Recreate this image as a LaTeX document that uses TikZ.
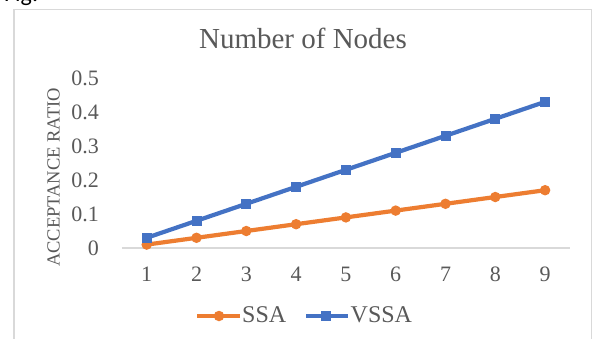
\documentclass[tikz,border=0pt]{standalone}
\usepackage{fontspec}
\setmainfont{Liberation Serif}
\newfontfamily\figfont{Carlito}
\definecolor{ssaorange}{HTML}{ED7D31}
\definecolor{vssablue}{HTML}{4472C4}
\definecolor{txtgray}{HTML}{595959}
\definecolor{axgray}{HTML}{D9D9D9}
\tikzset{
  serieline/.style={line width=4.2pt, line join=round, line cap=round},
  ssamark/.style={circle, fill=ssaorange, inner sep=0pt, minimum size=10.5pt},
  vssamark/.style={rectangle, fill=vssablue, inner sep=0pt, minimum size=10pt},
  ticklab/.style={text=txtgray, font=\fontsize{22}{22}\selectfont, inner sep=0pt},
  legtext/.style={text=txtgray, font=\fontsize{24}{24}\selectfont, inner sep=0pt, anchor=base west},
}
\begin{document}
\begin{tikzpicture}[x=1pt, y=-1pt]
\useasboundingbox (0,0) rectangle (592,338);
\fill[white] (0,0) rectangle (592,338);
% partial caption
\node[anchor=base west, inner sep=0pt, font=\figfont\fontsize{24}{24}\selectfont] (fig) at (4,1) {Fig.};
% chart area border
\draw[axgray, line width=1.5pt] (14,345) -- (14,9.5) -- (591.3,9.5) -- (591.3,345);
% title
\node[anchor=base, inner sep=0pt, text=txtgray, font=\fontsize{29}{29}\selectfont] (title) at (303,48) {Number of Nodes};
% y axis title
\node[rotate=90, inner sep=0pt, text=txtgray, font=\fontsize{18.5}{18.5}\selectfont] (ytitle) at (53.5,177.5) {ACCEPTANCE RATIO};
% x axis line
\coordinate (axl) at (121.8,248);
\coordinate (axr) at (569.5,248);
\draw[axgray, line width=1.3pt] (axl) -- (axr);
% y tick labels
\foreach \k/\lab in {0/0,1/0.1,2/0.2,3/0.3,4/0.4,5/0.5}{
  \node[ticklab, anchor=east] (yt\k) at (99,{248-34*\k}) {\lab};
}
% x tick labels
\foreach \i in {1,...,9}{
  \node[ticklab, anchor=center] (xt\i) at ({146.7+49.8*(\i-1)},274) {\i};
}
% data points
\foreach \i/\s/\v in {1/0.01/0.03,2/0.03/0.08,3/0.05/0.13,4/0.07/0.18,5/0.09/0.23,6/0.11/0.28,7/0.13/0.33,8/0.15/0.38,9/0.17/0.43}{
  \coordinate (s\i) at ({146.7+49.8*(\i-1)},{248-340*\s});
  \coordinate (v\i) at ({146.7+49.8*(\i-1)},{248-340*\v});
}
% SSA series
\draw[serieline, ssaorange] (s1) -- (s2) -- (s3) -- (s4) -- (s5) -- (s6) -- (s7) -- (s8) -- (s9);
\foreach \i in {1,...,9}{ \node[ssamark] (sm\i) at (s\i) {}; }
% VSSA series
\draw[serieline, vssablue] (v1) -- (v2) -- (v3) -- (v4) -- (v5) -- (v6) -- (v7) -- (v8) -- (v9);
\foreach \i in {1,...,9}{ \node[vssamark] (vm\i) at (v\i) {}; }
% legend
\coordinate (la1) at (197,316);
\coordinate (la2) at (240,316);
\draw[serieline, ssaorange, line cap=butt] (la1) -- (la2);
\node[ssamark] (lam) at (219,316) {};
\node[legtext] (lat) at (242,322) {SSA};
\coordinate (lb1) at (306,316);
\coordinate (lb2) at (348,316);
\draw[serieline, vssablue, line cap=butt] (lb1) -- (lb2);
\node[vssamark] (lbm) at (326,316) {};
\node[legtext] (lbt) at (350.5,322) {VSSA};
\end{tikzpicture}
\end{document}
